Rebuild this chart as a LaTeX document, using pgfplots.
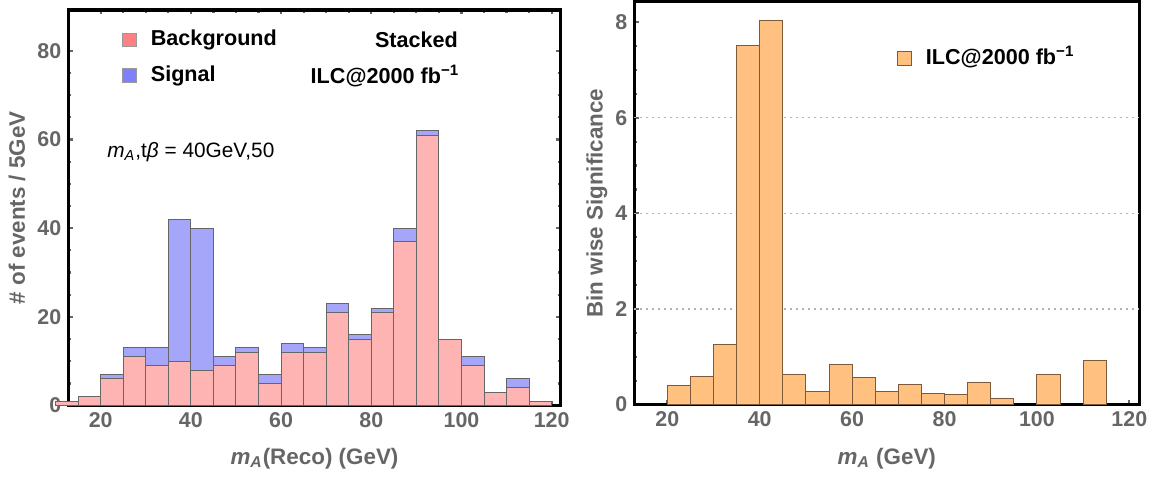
\documentclass[border=0pt]{standalone}
\usepackage{fontspec}
\setmainfont{Liberation Sans}
\usepackage{pgfplots}
\pgfplotsset{compat=1.18}
\definecolor{tickgray}{RGB}{102,102,102}
\definecolor{bgfill}{RGB}{255,180,180}
\definecolor{sigfill}{RGB}{165,165,250}
\definecolor{bgleg}{RGB}{255,128,128}
\definecolor{sigleg}{RGB}{128,128,255}
\definecolor{orfill}{RGB}{255,192,128}
\definecolor{oredge}{RGB}{125,90,60}
\pgfplotsset{
  layers/mylayers/.define layer set={axis background,axis grid,main,axis ticks,axis lines,axis tick labels,axis descriptions,axis foreground}{},
  mma/.style={
    set layers=mylayers,
    scale only axis,
    axis line style={line width=1.6pt, black},
    tick style={tickgray, line width=1.1pt},
    tick align=inside,
    major tick length=2.2pt, minor tick length=1.4pt,
    ticklabel style={font=\bfseries\fontsize{10.7}{12}\selectfont, text=tickgray},
    /pgf/number format/assume math mode=true,
    label style={font=\bfseries\fontsize{11.2}{13}\selectfont, text=tickgray},
    legend style={draw=none, fill=none, inner sep=0pt,
      font=\bfseries\fontsize{10.8}{12}\selectfont,
      nodes={inner sep=0pt, text height=7.8pt, text depth=2.2pt},
      row sep=7.75pt,
      /tikz/every odd column/.append style={column sep=7pt}},
    legend cell align=left,
    legend image code/.code={\draw[##1] (0pt,-3.4pt) rectangle (6.8pt,3.4pt);},
  }
}
\begin{document}
\begin{tikzpicture}
\path (0,0) rectangle (579pt,239.5pt);
% ---------------- left panel
\begin{axis}[mma, at={(34.15pt,37pt)}, anchor=south west,
  width=246.2pt, height=197.85pt,
  xmin=12.82, xmax=122, ymin=0, ymax=89.2, clip=false,
  xtick={20,40,...,120}, minor x tick num=3,
  ytick={0,20,...,80}, minor y tick num=3,
  xlabel={\itshape m\textsubscript{A}\upshape(Reco) (GeV)},
  ylabel={\# of events / 5GeV},
  xlabel style={at={(axis description cs:0.5,-0.134)}, anchor=center},
  ylabel style={at={(axis description cs:-0.104,0.5)}, anchor=center},
  legend style={at={(axis cs:24.7,78.4)}, anchor=west},
]
\addplot[ybar interval, fill=sigfill, draw=black!60, line width=0.5pt, forget plot] coordinates {
(10,1) (15,2) (20,7) (25,13) (30,13) (35,42) (40,40) (45,11) (50,13) (55,7) (60,14)
(65,13) (70,23) (75,16) (80,22) (85,40) (90,62) (95,15) (100,11) (105,3) (110,6) (115,1) (120,1)};
\addplot[ybar interval, fill=bgfill, draw=black!60, line width=0.5pt, forget plot] coordinates {
(10,1) (15,2) (20,6) (25,11) (30,9) (35,10) (40,8) (45,9) (50,12) (55,5) (60,12)
(65,12) (70,21) (75,15) (80,21) (85,37) (90,61) (95,15) (100,9) (105,3) (110,4) (115,1) (120,1)};
\addlegendimage{fill=bgleg, draw=black!40, line width=0.5pt}
\addlegendentry{Background}
\addlegendimage{fill=sigleg, draw=black!40, line width=0.5pt}
\addlegendentry{Signal}
\node[anchor=east, inner sep=0pt, font=\bfseries\fontsize{10.8}{12}\selectfont] at (axis cs:99.3,82.4) {Stacked};
\node[anchor=east, inner sep=0pt, font=\bfseries\fontsize{10.8}{12}\selectfont] at (axis cs:99.6,74.4) {ILC@2000 fb\textsuperscript{−1}};
\node[anchor=west, inner sep=0pt, font=\fontsize{10.4}{12}\selectfont] at (axis cs:21.4,57.2) {\itshape m\textsubscript{A}\upshape,t\itshape β\upshape{} = 40GeV,50};
\end{axis}
% ---------------- right panel
\begin{axis}[mma, at={(317.15pt,37.5pt)}, anchor=south west,
  width=252.5pt, height=201.5pt,
  xmin=12.86, xmax=122.16, ymin=0, ymax=8.43,
  xtick={20,40,...,120},
  ytick={0,2,...,8}, minor y tick num=3,
  tick pos=left,
  extra y ticks={2,4,6}, extra y tick labels={},
  extra y tick style={grid=major, major tick length=0pt},
  major grid style={dash pattern=on 0.7pt off 2.3pt, black!30, line width=0.6pt},
  xlabel={\itshape m\textsubscript{A}\upshape{} (GeV)},
  ylabel={Bin wise Significance},
  xlabel style={at={(axis description cs:0.5,-0.134)}, anchor=center},
  ylabel style={at={(axis description cs:-0.0739,0.5)}, anchor=center},
  legend style={at={(axis cs:69.7,7.24)}, anchor=west},
]
\addplot[ybar interval, fill=orfill, draw=oredge, line width=0.5pt, forget plot] coordinates {
(20,0.39) (25,0.585) (30,1.25) (35,7.52) (40,8.03) (45,0.64) (50,0.28) (55,0.84) (60,0.56)
(65,0.28) (70,0.43) (75,0.24) (80,0.21) (85,0.47) (90,0.12) (95,0.12)};
\addplot[ybar interval, fill=orfill, draw=oredge, line width=0.5pt, forget plot] coordinates {
(100,0.63) (105,0.63)};
\addplot[ybar interval, fill=orfill, draw=oredge, line width=0.5pt, forget plot] coordinates {
(110,0.93) (115,0.93)};
\addlegendimage{fill=orfill, draw=oredge, line width=0.5pt}
\addlegendentry{ILC@2000 fb\textsuperscript{−1}}
\end{axis}
\end{tikzpicture}
\end{document}
